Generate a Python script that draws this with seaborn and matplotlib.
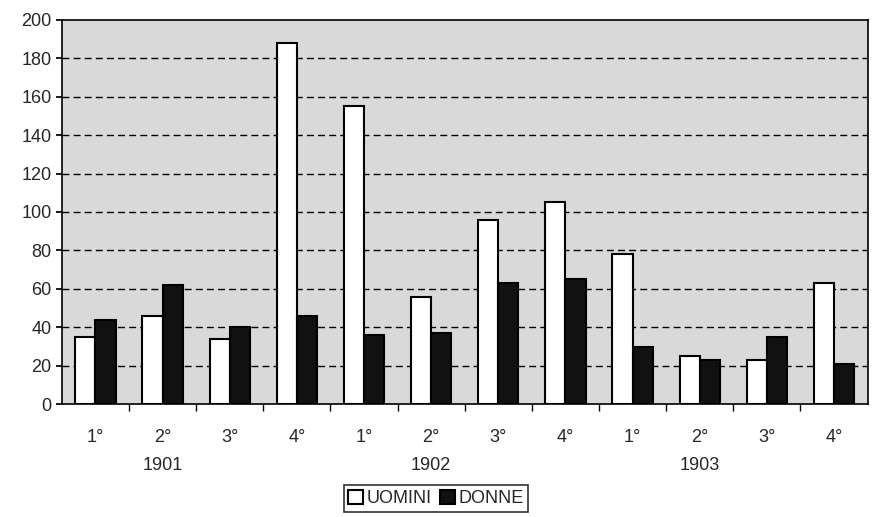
import numpy as np
import pandas as pd
import matplotlib
matplotlib.use('Agg')
import matplotlib.pyplot as plt
import seaborn as sns

# Quarterly counts, 1901-1903
years = ["1901", "1902", "1903"]
quarters = ["1°", "2°", "3°", "4°"]
uomini = [35, 46, 34, 188, 155, 56, 96, 105, 78, 25, 23, 63]
donne = [44, 62, 40, 46, 36, 37, 63, 65, 30, 23, 35, 21]
y_ticks = list(range(0, 201, 20))

periods = [f"{y}-{q}" for y in years for q in quarters]
df = pd.DataFrame({
    "periodo": periods * 2,
    "valore": uomini + donne,
    "sesso": ["UOMINI"] * len(periods) + ["DONNE"] * len(periods),
})

sns.set_theme(style="white")
plt.rcParams['font.family'] = ['Liberation Sans', 'DejaVu Sans']

fig, ax = plt.subplots(figsize=(8.72, 5.17), dpi=100)
fig.subplots_adjust(left=0.071, right=0.995, top=0.962, bottom=0.218)
ax.set_facecolor("#d9d9d9")

sns.barplot(data=df, x="periodo", y="valore", hue="sesso", order=periods,
            hue_order=["UOMINI", "DONNE"], palette={"UOMINI": "white", "DONNE": "#111111"},
            edgecolor="black", linewidth=1.5, width=0.6, ax=ax, zorder=3)

ax.set_ylim(0, 200)
ax.set_xlim(-0.5, len(periods) - 0.5)
ax.set_yticks(y_ticks)
ax.tick_params(axis="y", labelsize=13, length=4, color="black", direction="out", left=True)
for v in y_ticks[1:-1]:
    ax.axhline(v, color="black", linestyle=(0, (5, 3)), linewidth=1.0, zorder=1)

ax.set_xticks(range(len(periods)))
ax.set_xticklabels(quarters * len(years), fontsize=13)
ax.tick_params(axis="x", length=0, pad=18)
ax.set_xticks(np.arange(0.5, len(periods) - 0.5, 1), minor=True)
ax.tick_params(axis="x", which="minor", length=5, color="black", direction="out", bottom=True)

for i, y in enumerate(years):
    ax.text(i * 4 + 1, -32, y, ha="center", va="center", fontsize=13,
            transform=ax.transData)

for s in ax.spines.values():
    s.set_color("black")
    s.set_linewidth(1.2)

ax.set_xlabel("")
ax.set_ylabel("")
handles, labels = ax.get_legend_handles_labels()
ax.get_legend().remove()
leg = fig.legend(handles, labels, loc="lower center", bbox_to_anchor=(0.5, 0.0), ncol=2,
                 frameon=True, fontsize=13, handlelength=0.8, handleheight=0.8,
                 handletextpad=0.2, columnspacing=0.5, borderpad=0.25, fancybox=False,
                 borderaxespad=0.3)
leg.get_frame().set_edgecolor("black")
leg.get_frame().set_linewidth(1.2)

plt.savefig("out.png", dpi=100)
plt.close()
